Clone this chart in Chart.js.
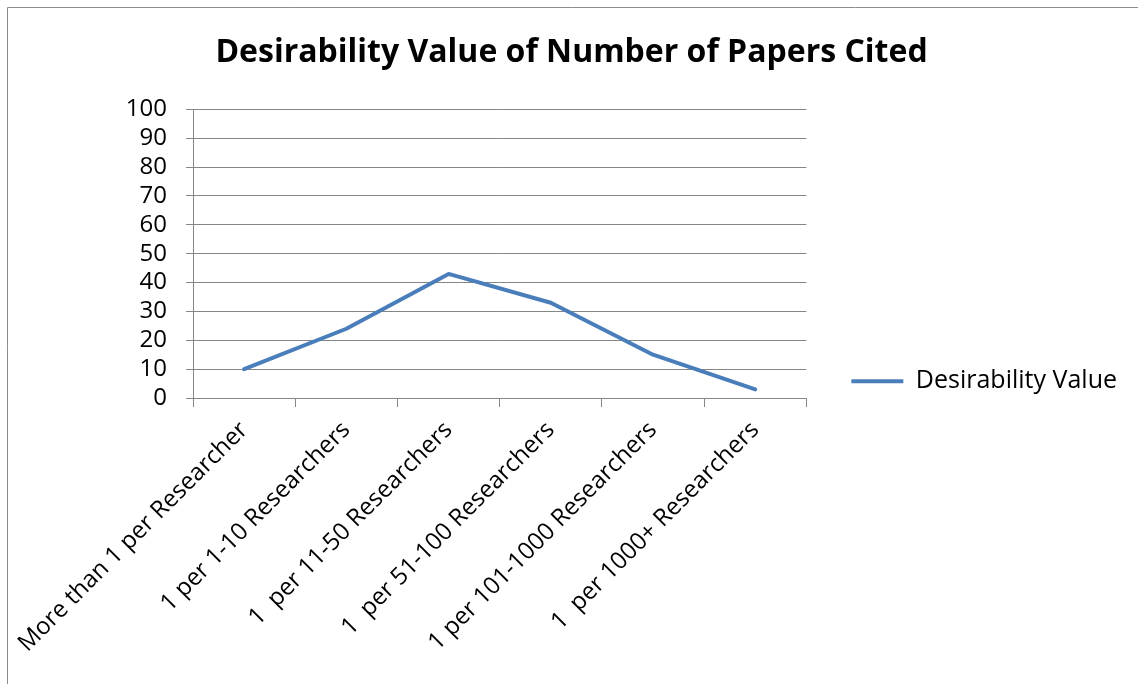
<!DOCTYPE html>
<html>
<head>
<meta charset="utf-8">
<title>Desirability Value of Number of Papers Cited</title>
<script src="https://cdn.jsdelivr.net/npm/chart.js@4"></script>
<style>
  html, body { margin: 0; padding: 0; background: #ffffff; }
  #wrap { width: 1138px; height: 684px; position: relative; }
</style>
</head>
<body>
<div id="wrap"><canvas id="chart" width="1138" height="684"></canvas></div>
<script>
const categories = [
  'More than 1 per Researcher',
  '1 per 1-10 Researchers',
  '1  per 11-50 Researchers',
  '1  per 51-100 Researchers',
  '1 per 101-1000 Researchers',
  '1  per 1000+ Researchers'
];
const desirabilityValues = [10, 24, 43, 33, 15, 3];
const yTicks = [0, 10, 20, 30, 40, 50, 60, 70, 80, 90, 100];

const FONT = '"Open Sans", Lato, sans-serif';
const LINE_BLUE = '#4a7ebb';
const GRID_GREY = '#868686';

// white page with a thin grey edge along the top and left
const framePlugin = {
  id: 'frame',
  beforeDraw(chart) {
    const ctx = chart.ctx;
    ctx.save();
    ctx.fillStyle = '#ffffff';
    ctx.fillRect(0, 0, chart.width, chart.height);
    ctx.strokeStyle = '#8c8c8c';
    ctx.lineWidth = 1;
    ctx.beginPath();
    ctx.moveTo(7.5, chart.height);
    ctx.lineTo(7.5, 7.5);
    ctx.lineTo(chart.width, 7.5);
    ctx.stroke();
    ctx.restore();
  }
};

new Chart(document.getElementById('chart'), {
  type: 'line',
  data: {
    labels: categories,
    datasets: [{
      label: 'Desirability Value',
      data: desirabilityValues,
      borderColor: LINE_BLUE,
      backgroundColor: LINE_BLUE,
      borderWidth: 4,
      borderJoinStyle: 'round',
      borderCapStyle: 'round',
      pointRadius: 0,
      pointStyle: 'line',
      tension: 0,
      fill: false
    }]
  },
  options: {
    responsive: false,
    animation: false,
    events: [],
    layout: { padding: { left: 16, right: 11, top: 20, bottom: 12 } },
    plugins: {
      title: {
        display: true,
        text: 'Desirability Value of Number of Papers Cited',
        color: '#000000',
        font: { family: FONT, size: 32, weight: 'bold', lineHeight: 1.2 },
        padding: { top: 14, bottom: 37 }
      },
      legend: {
        position: 'right',
        align: 'center',
        maxWidth: 360,
        title: { display: true, text: '', padding: { top: 28, bottom: 28 }, font: { size: 12 } },
        labels: {
          color: '#000000',
          font: { family: FONT, size: 25 },
          usePointStyle: true,
          pointStyle: 'line',
          pointStyleWidth: 52,
          boxHeight: 25,
          padding: 45
        }
      },
      tooltip: { enabled: false }
    },
    scales: {
      x: {
        offset: true,
        grid: {
          offset: true,
          drawOnChartArea: false,
          drawTicks: true,
          tickLength: 9,
          color: GRID_GREY
        },
        border: { display: true, color: GRID_GREY, width: 1 },
        ticks: {
          color: '#000000',
          font: { family: FONT, size: 24 },
          minRotation: 45,
          maxRotation: 45,
          autoSkip: false,
          padding: 9
        },
        afterFit(scale) {
          scale.height = 274;
          // the rotated first label may run past the plot's left edge
          scale.paddingLeft = 0;
          scale.paddingRight = 0;
        }
      },
      y: {
        min: 0,
        max: 100,
        afterBuildTicks(scale) { scale.ticks = yTicks.map(v => ({ value: v })); },
        grid: {
          color: GRID_GREY,
          drawTicks: true,
          tickLength: 7
        },
        border: { display: true, color: GRID_GREY, width: 1 },
        ticks: {
          color: '#000000',
          font: { family: FONT, size: 24 },
          padding: 19,
          autoSkip: false
        },
        afterFit(scale) { scale.width = 177; }
      }
    }
  },
  plugins: [framePlugin]
});
</script>
</body>
</html>
